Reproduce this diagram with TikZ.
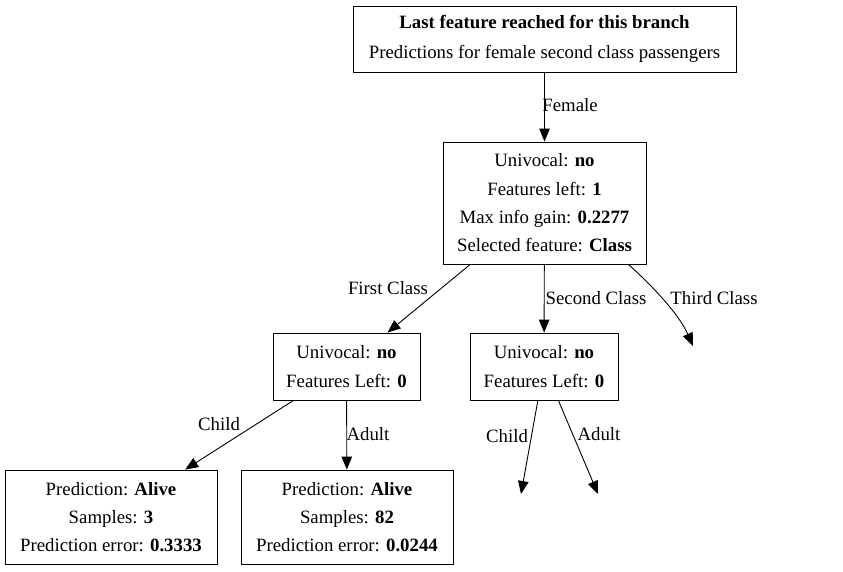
\documentclass[tikz,border=0pt]{standalone}
\usepackage{fontspec}
\setmainfont{Liberation Serif}
\usetikzlibrary{arrows.meta}
\begin{document}
\begin{tikzpicture}[x=1pt,y=-1pt,
  box/.style={draw,line width=0.9pt,inner sep=0pt,align=center,font=\fontsize{18.8}{28.3}\selectfont},
  lbl/.style={inner sep=0pt,font=\fontsize{18.8}{22}\selectfont},
  arr/.style={line width=0.9pt,-{Triangle[length=13pt,width=10.5pt]}}]
\useasboundingbox (0,0) rectangle (843,571);
\node[box,minimum width=383pt,minimum height=66pt] (top) at (544.5,39) {\textbf{Last feature reached for this branch}\\[1.7pt]Predictions for female second class passengers};
\node[box,minimum width=203pt,minimum height=122pt] (mid) at (544.5,203) {Univocal: \textbf{no}\\Features left: \textbf{1}\\Max info gain: \textbf{0.2277}\\Selected feature: \textbf{Class}};
\node[box,minimum width=147pt,minimum height=67pt] (lm) at (346.5,366.5) {Univocal: \textbf{no}\\Features Left: \textbf{0}};
\node[box,minimum width=148pt,minimum height=67pt] (rm) at (544,366.5) {Univocal: \textbf{no}\\Features Left: \textbf{0}};
\node[box,minimum width=212pt,minimum height=94pt] (bl) at (111,517) {Prediction: \textbf{Alive}\\Samples: \textbf{3}\\Prediction error: \textbf{0.3333}};
\node[box,minimum width=212pt,minimum height=94pt] (bm) at (347,517) {Prediction: \textbf{Alive}\\Samples: \textbf{82}\\Prediction error: \textbf{0.0244}};
\coordinate (t3) at (693,346);
\coordinate (rc) at (521,494);
\coordinate (ra) at (598,494);
\draw[arr] (top) -- (mid);
\draw[arr] (mid) -- (lm);
\draw[arr] (mid) -- (rm);
\draw[arr] ([xshift=-18pt]mid.south east) .. controls (648,282) and (678,312) .. (t3);
\draw[arr] (lm) -- (bl);
\draw[arr] (lm) -- (bm);
\draw[arr] (rm) -- (rc);
\draw[arr] (rm) -- (ra);
\node[lbl] (l1) at (570,105) {Female};
\node[lbl] (l2) at (388,288) {First Class};
\node[lbl] (l3) at (596,298) {Second Class};
\node[lbl] (l4) at (714,298) {Third Class};
\node[lbl] (l5) at (219,424) {Child};
\node[lbl] (l6) at (368,434) {Adult};
\node[lbl] (l7) at (507,436) {Child};
\node[lbl] (l8) at (599,434) {Adult};
\end{tikzpicture}
\end{document}
